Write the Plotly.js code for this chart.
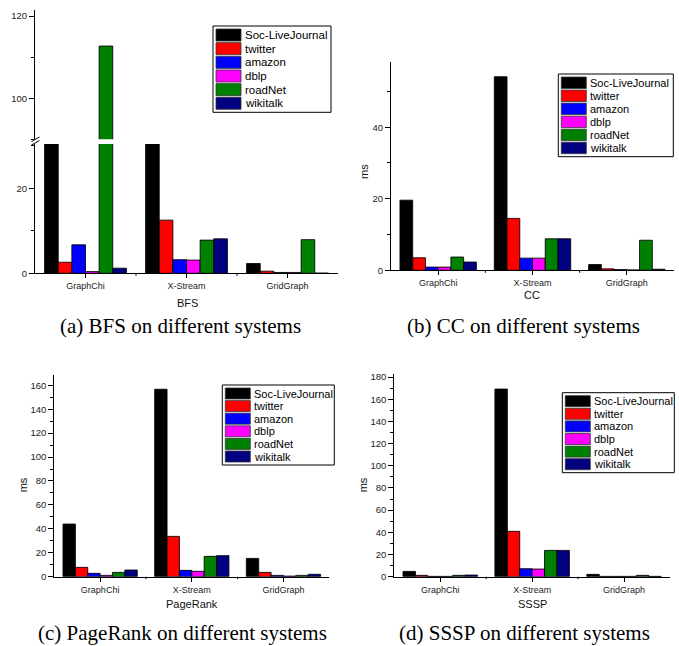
<!DOCTYPE html>
<html><head><meta charset="utf-8">
<script src="https://cdn.plot.ly/plotly-3.0.1.min.js"></script>
<style>html,body{margin:0;padding:0;background:#fff}#chart{width:679px;height:646px}</style>
</head><body><div id="chart"></div>
<script>
// ---------------- data ----------------
const categories = ['GraphChi', 'X-Stream', 'GridGraph'];
const seriesNames = ['Soc-LiveJournal', 'twitter', 'amazon', 'dblp', 'roadNet', 'wikitalk'];
const seriesColors = ['#000000', '#ff0000', '#0000ff', '#ff00ff', '#008000', '#000080'];
// rows follow seriesNames, columns follow categories (ms)
const bfsValues = [
  [45, 50, 2.3],
  [2.6, 12.5, 0.5],
  [6.7, 3.2, 0.2],
  [0.4, 3.1, 0.2],
  [112.7, 7.8, 7.9],
  [1.2, 8.1, 0.05]
];
const ccValues = [
  [19.6, 54.1, 1.6],
  [3.5, 14.5, 0.4],
  [0.9, 3.4, 0.2],
  [0.9, 3.4, 0.1],
  [3.7, 8.8, 8.4],
  [2.3, 8.8, 0.3]
];
const pagerankValues = [
  [44.0, 156.7, 15.3],
  [7.8, 33.7, 3.6],
  [2.8, 5.3, 1.1],
  [1.1, 4.5, 0.5],
  [3.6, 17.0, 1.1],
  [5.6, 17.6, 2.0]
];
const ssspValues = [
  [4.8, 169.2, 2.1],
  [1.2, 40.9, 0.3],
  [0.3, 7.2, 0.3],
  [0.3, 6.9, 0.3],
  [1.2, 23.7, 1.2],
  [1.5, 23.7, 0.3]
];
const axisTitles = ['BFS', 'CC', 'PageRank', 'SSSP'];
const yTitle = 'ms';
const captions = ['(a) BFS on different systems', '(b) CC on different systems',
                  '(c) PageRank on different systems', '(d) SSSP on different systems'];

// ---------------- layout helpers ----------------
const W = 679, H = 646;
const px = x => x / W;
const py = y => 1 - y / H;
const SANS = 'Liberation Sans, Arial, sans-serif';
const SERIF = 'Liberation Serif, Times New Roman, serif';

const panels = [
  {xa: 'x',  ya: 'y',  xd: [35, 338],    yd: [273.3, 144],  yr: [0, 30.4],  vals: bfsValues,
   leg: [213, 26, 331, 112.3], lf: 11.5, tt: [187, 302.5], ms: null, cap: [180, 326]},
  {xa: 'x2', ya: 'y2', xd: [391, 674],   yd: [270.3, 61.7], yr: [0, 58.3],  vals: ccValues,
   leg: [558.3, 74, 673.3, 156.7], lf: 11, tt: [532, 295], ms: [363.3, 171.7], cap: [523, 326]},
  {xa: 'x3', ya: 'y3', xd: [54.3, 329.3], yd: [576.7, 375], yr: [0, 168.6], vals: pagerankValues,
   leg: [222.3, 385, 334.3, 465], lf: 11, tt: [191.7, 604], ms: [23.3, 485], cap: [182, 633]},
  {xa: 'x4', ya: 'y4', xd: [394.3, 670], yd: [576.7, 374.3], yr: [0, 182.5], vals: ssspValues,
   leg: [562.3, 392.7, 674.3, 472.7], lf: 11, tt: [532.3, 604], ms: [363.3, 485], cap: [524, 633]}
];

function yAxis(domPx, range, anchor) {
  return {
    domain: [py(domPx[0]), py(domPx[1])], range: range, anchor: anchor,
    showline: true, linecolor: '#000', linewidth: 1,
    ticks: 'outside', ticklen: 5, tickwidth: 1, tickcolor: '#000',
    tick0: 0, dtick: 20, showgrid: false, zeroline: false, fixedrange: true,
    tickfont: {family: SANS, size: 9.5, color: '#222'},
    minor: {ticks: 'outside', ticklen: 3, tickwidth: 1, tickcolor: '#000', tick0: 0, dtick: 10, showgrid: false}
  };
}
function xAxis(domPx, anchor) {
  return {
    domain: [px(domPx[0]), px(domPx[1])], anchor: anchor, type: 'category',
    range: [-0.5, 2.5], showline: true, linecolor: '#000', linewidth: 1,
    ticks: 'outside', ticklen: 4, tickwidth: 1, tickcolor: '#000',
    showgrid: false, zeroline: false, fixedrange: true,
    tickfont: {family: SANS, size: 9, color: '#222'}
  };
}

const traces = [];
const layout = {
  width: W, height: H, margin: {l: 0, r: 0, t: 0, b: 0},
  paper_bgcolor: '#fff', plot_bgcolor: '#fff', showlegend: false,
  barmode: 'group', bargap: 0.19, bargroupgap: 0,
  font: {family: SANS, color: '#000'},
  shapes: [], annotations: []
};

panels.forEach((p, pi) => {
  const xKey = 'xaxis' + p.xa.slice(1);
  const yKey = 'yaxis' + p.ya.slice(1);
  layout[xKey] = xAxis(p.xd, p.ya);
  layout[yKey] = yAxis(p.yd, p.yr, p.xa);

  const yAxesForPanel = [p.ya];
  if (pi === 0) {
    // upper segment of broken axis
    layout.yaxis5 = yAxis([139.3, 9.5], [90, 121.6], 'x');
    yAxesForPanel.push('y5');
  }
  yAxesForPanel.forEach(ya => {
    seriesNames.forEach((name, si) => {
      traces.push({
        type: 'bar', name: name, x: categories, y: p.vals[si],
        xaxis: p.xa, yaxis: ya, showlegend: false,
        marker: {color: seriesColors[si], line: {color: 'rgba(0,0,0,0.85)', width: 1}},
        hoverinfo: 'x+y+name'
      });
    });
  });

  // boundary ticks between categories
  [0.5, 1.5].forEach(b => {
    layout.shapes.push({type: 'line', xref: p.xa, yref: 'paper', x0: b, x1: b,
      y0: py(p.yd[0]), y1: py(p.yd[0] + 2.5), line: {color: '#000', width: 1}});
  });

  // legend box
  const [lx0, ly0, lx1, ly1] = p.leg;
  layout.shapes.push({type: 'rect', xref: 'paper', yref: 'paper',
    x0: px(lx0), x1: px(lx1), y0: py(ly1), y1: py(ly0),
    line: {color: '#000', width: 1}, fillcolor: '#fff', layer: 'above'});
  const pad = 2.2, pitch = (ly1 - ly0 - 2 * pad) / seriesNames.length;
  seriesNames.forEach((name, si) => {
    const top = ly0 + pad + si * pitch;
    layout.shapes.push({type: 'rect', xref: 'paper', yref: 'paper',
      x0: px(lx0 + 3), x1: px(lx0 + 28), y0: py(top + pitch - 0.8), y1: py(top + 0.8),
      line: {color: '#333', width: 0.8}, fillcolor: seriesColors[si], layer: 'above'});
    layout.annotations.push({xref: 'paper', yref: 'paper', x: px(lx0 + 30), y: py(top + pitch / 2),
      xanchor: 'left', yanchor: 'middle', showarrow: false, text: name,
      font: {family: SANS, size: p.lf, color: '#000'}});
  });

  // axis titles
  layout.annotations.push({xref: 'paper', yref: 'paper', x: px(p.tt[0]), y: py(p.tt[1]),
    xanchor: 'center', yanchor: 'middle', showarrow: false, text: axisTitles[pi],
    font: {family: SANS, size: 11, color: '#111'}});
  if (p.ms) {
    layout.annotations.push({xref: 'paper', yref: 'paper', x: px(p.ms[0]), y: py(p.ms[1]),
      xanchor: 'center', yanchor: 'middle', showarrow: false, text: yTitle, textangle: -90,
      font: {family: SANS, size: 11, color: '#111'}});
  }
  // caption
  layout.annotations.push({xref: 'paper', yref: 'paper', x: px(p.cap[0]), y: py(p.cap[1]),
    xanchor: 'center', yanchor: 'middle', showarrow: false, text: captions[pi],
    font: {family: SERIF, size: 21, color: '#000'}});
});

// axis break marks on panel (a)
[[31.5, 141.5, 39.5, 137], [31.5, 145, 39.5, 140.5]].forEach(s => {
  layout.shapes.push({type: 'line', xref: 'paper', yref: 'paper',
    x0: px(s[0]), y0: py(s[1]), x1: px(s[2]), y1: py(s[3]), line: {color: '#000', width: 1}});
});

Plotly.newPlot('chart', traces, layout, {staticPlot: true, displayModeBar: false});
</script>
</body></html>
